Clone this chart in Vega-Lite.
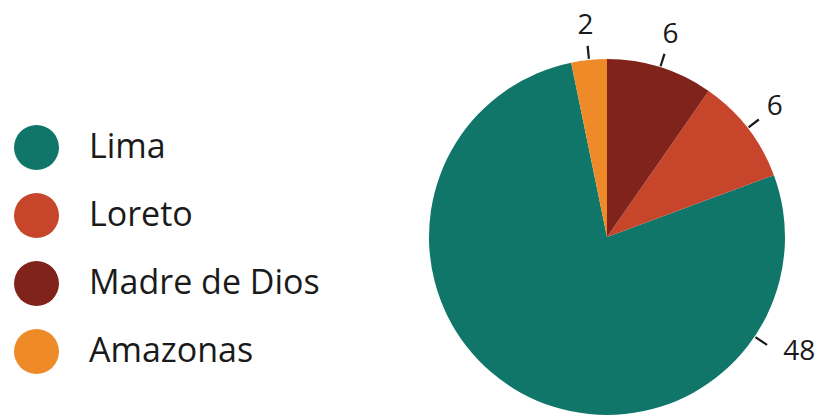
{
  "$schema": "https://vega.github.io/schema/vega-lite/v6.json",
  "autosize": "none",
  "width": 356,
  "height": 356,
  "padding": {"left": 429, "top": 59, "right": 42, "bottom": 2},
  "background": "white",
  "config": {"view": {"stroke": null}, "font": "Open Sans"},
  "data": {
    "values": [
      {"region": "Lima", "value": 48, "rank": 3},
      {"region": "Loreto", "value": 6, "rank": 2},
      {"region": "Madre de Dios", "value": 6, "rank": 1},
      {"region": "Amazonas", "value": 2, "rank": 4}
    ]
  },
  "encoding": {
    "theta": {"field": "value", "type": "quantitative", "stack": true},
    "order": {"field": "rank", "type": "quantitative"},
    "color": {
      "field": "region",
      "type": "nominal",
      "scale": {
        "domain": ["Lima", "Loreto", "Madre de Dios", "Amazonas"],
        "range": ["#10766a", "#c6452b", "#80231a", "#ee8a27"]
      },
      "legend": {
        "orient": "none",
        "legendX": -415,
        "legendY": 66,
        "title": null,
        "symbolType": "circle",
        "symbolSize": 2025,
        "symbolStrokeWidth": 0,
        "labelFontSize": 34,
        "labelColor": "#1a1a1a",
        "labelOffset": 30,
        "rowPadding": 23,
        "labelLimit": 400
      }
    }
  },
  "layer": [
    {"mark": {"type": "arc", "outerRadius": 178}},
    {
      "mark": {"type": "text", "radius": 212, "fontSize": 28, "color": "#1a1a1a"},
      "encoding": {
        "text": {
          "condition": {"test": "datum.region === 'Lima'", "value": ""},
          "field": "value",
          "type": "quantitative"
        },
        "color": {"value": "#1a1a1a"}
      }
    },
    {
      "transform": [{"filter": "datum.region === 'Lima'"}],
      "mark": {"type": "text", "radius": 224, "fontSize": 28, "color": "#1a1a1a"},
      "encoding": {
        "theta": {"value": 2.11},
        "order": null,
        "text": {"field": "value", "type": "quantitative"},
        "color": {"value": "#1a1a1a"}
      }
    },
    {
      "transform": [{"filter": "datum.region === 'Madre de Dios'"}],
      "mark": {"type": "arc", "radius": 179, "radius2": 192, "color": "#1a1a1a"},
      "encoding": {"theta": {"value": 0.298}, "theta2": {"value": 0.310}, "order": null, "color": {"value": "#1a1a1a"}}
    },
    {
      "transform": [{"filter": "datum.region === 'Loreto'"}],
      "mark": {"type": "arc", "radius": 179, "radius2": 192, "color": "#1a1a1a"},
      "encoding": {"theta": {"value": 0.906}, "theta2": {"value": 0.918}, "order": null, "color": {"value": "#1a1a1a"}}
    },
    {
      "transform": [{"filter": "datum.region === 'Amazonas'"}],
      "mark": {"type": "arc", "radius": 179, "radius2": 192, "color": "#1a1a1a"},
      "encoding": {"theta": {"value": 6.176}, "theta2": {"value": 6.188}, "order": null, "color": {"value": "#1a1a1a"}}
    },
    {
      "transform": [{"filter": "datum.region === 'Lima'"}],
      "mark": {"type": "arc", "radius": 179, "radius2": 193, "color": "#1a1a1a"},
      "encoding": {"theta": {"value": 2.158}, "theta2": {"value": 2.170}, "order": null, "color": {"value": "#1a1a1a"}}
    }
  ]
}
